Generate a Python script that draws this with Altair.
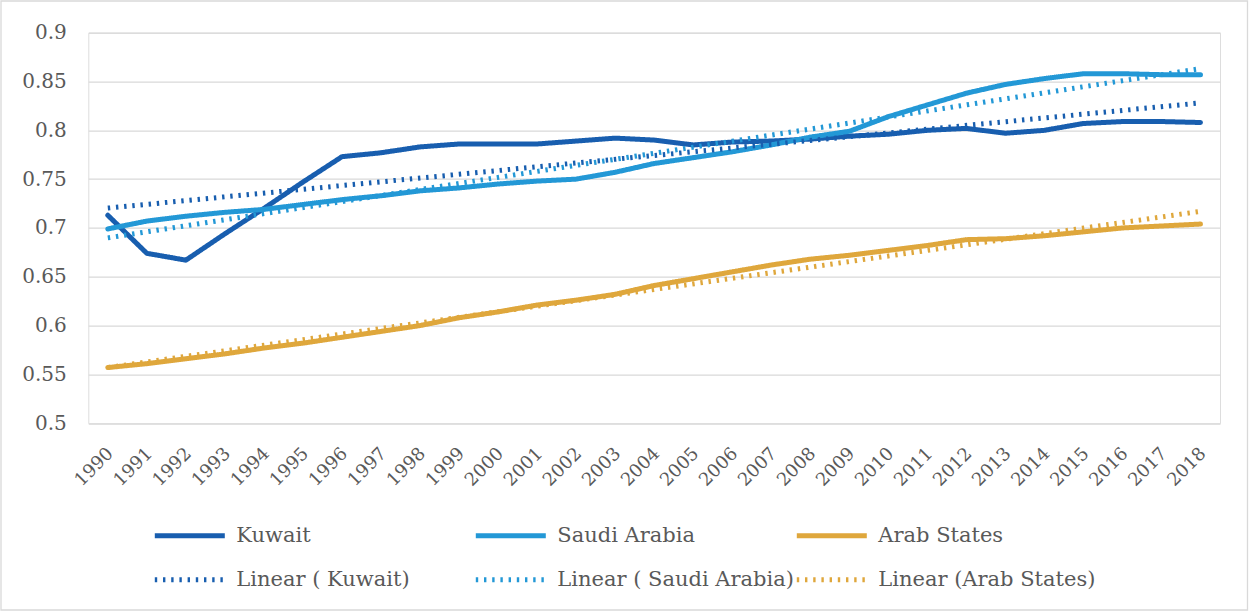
import altair as alt
import pandas as pd

# Human Development Index, 1990-2018
years = list(range(1990, 2019))
kuwait = [0.713, 0.674, 0.667, 0.694, 0.720, 0.747, 0.773, 0.777, 0.783, 0.786,
          0.786, 0.786, 0.789, 0.792, 0.790, 0.785, 0.788, 0.789, 0.791, 0.794,
          0.796, 0.800, 0.802, 0.797, 0.800, 0.807, 0.809, 0.809, 0.808]
saudi = [0.699, 0.707, 0.712, 0.716, 0.719, 0.724, 0.729, 0.733, 0.738, 0.741,
         0.745, 0.748, 0.750, 0.757, 0.766, 0.772, 0.778, 0.785, 0.793, 0.799,
         0.814, 0.826, 0.838, 0.847, 0.853, 0.858, 0.858, 0.857, 0.857]
arab = [0.557, 0.561, 0.566, 0.571, 0.577, 0.582, 0.588, 0.594, 0.600, 0.608,
        0.614, 0.621, 0.626, 0.632, 0.641, 0.648, 0.655, 0.662, 0.668, 0.672,
        0.677, 0.682, 0.688, 0.689, 0.692, 0.696, 0.700, 0.702, 0.704]

countries = ["Kuwait", "Saudi Arabia", "Arab States"]
trend_names = ["Linear ( Kuwait)", "Linear ( Saudi Arabia)", "Linear (Arab States)"]
colors = ["#185EAF", "#2398D6", "#DFA73C"]
y_ticks = [0.5, 0.55, 0.6, 0.65, 0.7, 0.75, 0.8, 0.85, 0.9]

rows = []
for name, trend, vals in zip(countries, trend_names, [kuwait, saudi, arab]):
    for yr, v in zip(years, vals):
        rows.append({"year": yr, "hdi": v, "series": name, "trend": trend})
df = pd.DataFrame(rows)

FONT = "DejaVu Serif"
TEXT = "#595959"
GRID = "#D9D9D9"

W, H = 1131.7, 390.5
PAD = {"left": 88.3, "top": 32.7, "right": 1249 - 88.3 - W, "bottom": 612 - 32.7 - H}

domain = countries + trend_names
color_scale = alt.Scale(domain=domain, range=colors + colors)
dash_scale = alt.Scale(domain=domain, range=[[1, 0]] * 3 + [[2.4, 5.8]] * 3)
width_scale = alt.Scale(domain=domain, range=[5, 5, 5, 3, 3, 3])

legend = alt.Legend(
    title=None,
    orient="none",
    direction="horizontal",
    legendX=64,
    legendY=491,
    columns=3,
    gridAlign="all",
    symbolType="stroke",
    symbolSize=4900,
    clipHeight=24,
    labelFont=FONT,
    labelFontSize=21,
    labelColor=TEXT,
    labelOffset=9,
    labelLimit=400,
    columnPadding=-18,
    rowPadding=20,
)

x_enc = alt.X(
    "year:O",
    scale=alt.Scale(type="point", padding=0.5),
    axis=alt.Axis(
        title=None,
        labelAngle=-45,
        labelFont=FONT,
        labelFontSize=18,
        labelColor=TEXT,
        domain=False,
        ticks=False,
        grid=False,
        labelPadding=21,
        labelOffset=-4,
    ),
)
y_enc = alt.Y(
    "hdi:Q",
    scale=alt.Scale(domain=[0.5, 0.9], zero=False, nice=False),
    axis=alt.Axis(
        title=None,
        values=y_ticks,
        format=".2~f",
        labelFont=FONT,
        labelFontSize=20,
        labelColor=TEXT,
        labelPadding=22,
        domain=False,
        ticks=False,
        gridColor=GRID,
        gridWidth=1.3,
    ),
)

style = dict(
    color=alt.Color("series:N", scale=color_scale, legend=legend),
    strokeDash=alt.StrokeDash("series:N", scale=dash_scale, legend=legend),
    strokeWidth=alt.StrokeWidth("series:N", scale=width_scale, legend=legend),
)

lines = alt.Chart(df).mark_line(strokeCap="round", strokeJoin="round").encode(
    x=x_enc, y=y_enc, detail="series:N", **style
)

trends = (
    alt.Chart(df)
    .transform_regression("year", "hdi", groupby=["trend"], method="linear", extent=[1990, 2018])
    .transform_calculate(series="datum.trend")
    .mark_line(strokeCap="butt")
    .encode(x=x_enc, y=y_enc, detail="series:N", **style)
)

# light frame around the whole figure
frame = (
    alt.Chart(alt.Data(values=[{}]))
    .mark_rect(fill=None, stroke=GRID, strokeWidth=1.3)
    .encode(
        x=alt.value(1 - PAD["left"]),
        x2=alt.value(1247.5 - PAD["left"]),
        y=alt.value(1 - PAD["top"]),
        y2=alt.value(610 - PAD["top"]),
    )
)

chart = (
    alt.layer(frame, lines, trends)
    .properties(width=W, height=H, padding=PAD, autosize=alt.AutoSizeParams(type="none"))
    .configure_view(stroke=None)
    .configure(background="white")
)

chart.save("out.html", embed_options={"renderer": "svg", "actions": False})
